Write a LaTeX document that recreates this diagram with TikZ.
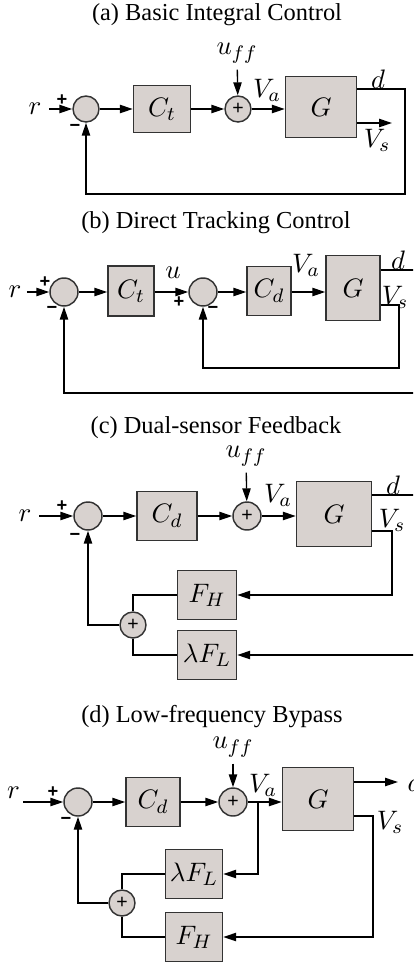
\documentclass[tikz,border=0pt]{standalone}
\usepackage{fontspec}
\setmainfont{Liberation Serif}
\newfontfamily\signfont{Liberation Sans}
\usetikzlibrary{arrows.meta}
\definecolor{blkfill}{HTML}{D8D2CF}
\definecolor{blkline}{HTML}{333333}

\tikzset{
  blk/.style 2 args={draw=blkline,fill=blkfill,line width=0.6pt,minimum width=#1*0.41pt,minimum height=#2*0.41pt,inner sep=0pt,font=\fontsize{11.3}{13}\selectfont},
  sumnode/.style={circle,draw=blkline,fill=blkfill,line width=0.6pt,minimum size=#1*0.41pt,inner sep=0pt,font=\signfont\fontsize{8}{9}\selectfont},
  lbl/.style={inner sep=0pt,font=\fontsize{11.3}{13}\selectfont},
  sgn/.style={inner sep=0pt,font=\signfont\bfseries\fontsize{7.5}{8}\selectfont},
  captxt/.style={inner sep=0pt,font=\fontsize{10}{12}\selectfont},
}

\begin{document}
\begin{tikzpicture}[x=0.41pt,y=-0.41pt,>={Triangle[length=5.3pt,width=3.4pt]},line width=0.55pt]
\useasboundingbox (0,0) rectangle (413,963);
\clip (0,0) rectangle (413,963);

% (a) basic integral control
\node[captxt] (capa) at (217,15) {(a) Basic Integral Control};
\node[lbl,inner xsep=3pt] (ra) at (35,109) {$r$};
\node[sumnode=26] (s1a) at (86,109) {};
\node[blk={57}{47}] (Cta) at (162,109) {$C_t$};
\node[sumnode=26] (s2a) at (238,109) {+};
\node[lbl] (uffa) at (237,53) {$u_{ff}$};
\node[blk={71}{61}] (Ga) at (321,107) {$G$};
\node[sgn] at (62,100) {+};
\node[sgn] at (75,128) {−};
\node[lbl] at (267,90) {$V_a$};
\node[lbl] at (378,79) {$d$};
\node[lbl] at (377,140) {$V_s$};
\coordinate (da) at (405,89);
\coordinate (fba) at (405,194);
\coordinate (vsa) at (392,123);
\draw[->] (ra) -- (s1a);
\draw[->] (s1a) -- (Cta);
\draw[->] (Cta) -- (s2a);
\draw[->,shorten <=2.5pt] (uffa) -- (s2a);
\draw[->] (s2a) -- (s2a -| Ga.west);
\draw[->] (Ga.east |- da) -- (da) -- (fba) -| (s1a.south);
\draw[->] (Ga.east |- vsa) -- (vsa);

% (b) direct tracking control
\node[captxt] (capb) at (216,223) {(b) Direct Tracking Control};
\node[lbl,inner xsep=2pt] (rb) at (15,292) {$r$};
\node[sumnode=28] (s1b) at (64,292) {};
\node[blk={46}{50}] (Ctb) at (131,291) {$C_t$};
\node[sumnode=28] (s2b) at (203,292) {};
\node[blk={44}{49}] (Cdb) at (269,291) {$C_d$};
\node[blk={54}{65}] (Gb) at (353,288) {$G$};
\node[sgn] at (45,282) {+};
\node[sgn] at (52,310) {−};
\node[sgn] at (179,302) {+};
\node[sgn] at (213,310) {−};
\node[lbl] at (173,273) {$u$};
\node[lbl] at (306,265) {$V_a$};
\node[lbl] at (398,260) {$d$};
\node[lbl] at (395,297) {$V_s$};
\coordinate (db) at (416,270);
\coordinate (fbb) at (416,393);
\coordinate (vsb) at (399,305);
\coordinate (ib) at (399,368);
\draw[->] (rb) -- (s1b);
\draw[->] (s1b) -- (s1b -| Ctb.west);
\draw[->] (s1b -| Ctb.east) -- (s2b);
\draw[->] (s2b) -- (s2b -| Cdb.west);
\draw[->] (s2b -| Cdb.east) -- (s2b -| Gb.west);
\draw[->] (Gb.east |- db) -- (db) -- (fbb) -| (s1b.south);
\draw[->] (Gb.east |- vsb) -- (vsb) -- (ib) -| (s2b.south);

% (c) dual-sensor feedback
\node[captxt] (capc) at (216,428) {(c) Dual-sensor Feedback};
\node[lbl,inner xsep=3pt] (rc) at (25,516) {$r$};
\node[sumnode=28] (s1c) at (88,516) {};
\node[blk={60}{49}] (Cdc) at (167,516) {$C_d$};
\node[sumnode=28] (s2c) at (247,516) {+};
\node[lbl] (uffc) at (246,456) {$u_{ff}$};
\node[blk={75}{65}] (Gc) at (334,514) {$G$};
\node[blk={59}{49}] (FHc) at (207,595) {$F_H$};
\node[blk={59}{49}] (FLc) at (207,655) {$\lambda F_L$};
\node[sumnode=26] (s3c) at (133,625) {+};
\node[sgn] at (62,506) {+};
\node[sgn] at (75,537) {−};
\node[lbl] at (278,495) {$V_a$};
\node[lbl] at (393,485) {$d$};
\node[lbl] at (392,520) {$V_s$};
\coordinate (dc) at (416,495);
\coordinate (fc) at (416,655);
\coordinate (vsc) at (392,531);
\coordinate (hc) at (392,595);
\draw[->] (rc) -- (s1c);
\draw[->] (s1c) -- (Cdc);
\draw[->] (Cdc) -- (s2c);
\draw[->,shorten <=2.5pt] (uffc) -- (s2c);
\draw[->] (s2c) -- (s2c -| Gc.west);
\draw (Gc.east |- dc) -- (dc) -- (fc);
\draw[->] (fc) -- (FLc);
\draw[->] (Gc.east |- vsc) -- (vsc) -- (hc) -- (FHc);
\draw (FHc) -| (s3c);
\draw (FLc) -| (s3c);
\draw[->] (s3c) -| (s1c);

% (d) low-frequency bypass
\node[captxt] (capd) at (212,717) {(d) Low-frequency Bypass};
\coordinate (rdin) at (23,802);
\node[lbl,anchor=south east,inner sep=1pt] (rd) at (rdin) {$r$};
\node[sumnode=28] (s1d) at (78,802) {};
\node[blk={54}{49}] (Cdd) at (153,802) {$C_d$};
\node[sumnode=28] (s2d) at (233,802) {+};
\node[lbl] (uffd) at (233,747) {$u_{ff}$};
\node[blk={71}{63}] (Gd) at (318,799) {$G$};
\node[blk={57}{49}] (FLd) at (194,874) {$\lambda F_L$};
\node[blk={57}{49}] (FHd) at (194,937) {$F_H$};
\node[sumnode=26] (s3d) at (122,903) {+};
\node[sgn] at (53,792) {+};
\node[sgn] at (66,821) {−};
\node[lbl] at (263,785) {$V_a$};
\node[lbl] at (390,822) {$V_s$};
\coordinate (brd) at (258,802);
\coordinate (bld) at (258,874);
\coordinate (dd) at (398,782);
\node[lbl,anchor=west] (dlbd) at (407,782) {$d$};
\coordinate (vsd) at (373,816);
\coordinate (hd) at (373,937);
\draw[->] (rdin) -- (s1d);
\draw[->] (s1d) -- (Cdd);
\draw[->] (Cdd) -- (s2d);
\draw[->,shorten <=2.5pt] (uffd) -- (s2d);
\draw[->] (s2d) -- (s2d -| Gd.west);
\draw[->] (brd) -- (bld) -- (FLd);
\draw[->] (Gd.east |- dd) -- (dd);
\draw[->] (Gd.east |- vsd) -- (vsd) -- (hd) -- (FHd);
\draw (FLd) -| (s3d);
\draw (FHd) -| (s3d);
\draw[->] (s3d) -| (s1d);
\end{tikzpicture}
\end{document}
